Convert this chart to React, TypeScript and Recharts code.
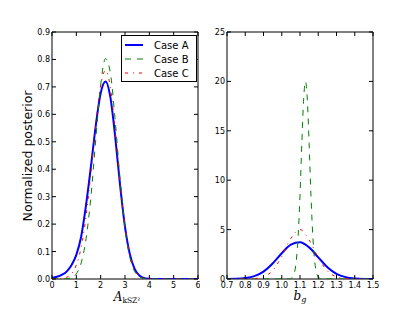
import React from 'react';
import { LineChart, Line, XAxis, YAxis, ReferenceArea } from 'recharts';

// left panel: A_kSZ^2 posterior
const leftX = [0, 0.2, 0.4, 0.6, 0.8, 1.0, 1.2, 1.4, 1.6, 1.8, 2.0, 2.2, 2.4, 2.6, 2.8, 3.0, 3.2, 3.4, 3.6, 3.8, 4.0, 4.2, 4.4, 4.6, 4.8, 5.0, 5.2, 5.4, 5.6, 5.8, 6.0];
const leftA = [0.004, 0.008, 0.015, 0.027, 0.05, 0.088, 0.155, 0.27, 0.41, 0.56, 0.677, 0.72, 0.662, 0.516, 0.34, 0.19, 0.09, 0.036, 0.012, 0.003, 0.001, 0, 0, 0, 0, 0, 0, 0, 0, 0, 0];
const leftB = [0, 0, 0, 0.001, 0.005, 0.019, 0.059, 0.147, 0.3, 0.51, 0.707, 0.803, 0.75, 0.574, 0.36, 0.187, 0.079, 0.027, 0.008, 0.002, 0, 0, 0, 0, 0, 0, 0, 0, 0, 0, 0];
const leftC = [0, 0.001, 0.002, 0.006, 0.019, 0.051, 0.116, 0.228, 0.387, 0.563, 0.705, 0.76, 0.697, 0.537, 0.348, 0.19, 0.087, 0.033, 0.011, 0.003, 0.001, 0, 0, 0, 0, 0, 0, 0, 0, 0, 0];
const leftXTicks = [0, 1, 2, 3, 4, 5, 6];
const leftYTicks = [0, 0.1, 0.2, 0.3, 0.4, 0.5, 0.6, 0.7, 0.8, 0.9];

// right panel: b_g posterior
const rightX = [0.7, 0.75, 0.8, 0.85, 0.9, 0.95, 1.0, 1.05, 1.1, 1.15, 1.2, 1.25, 1.3, 1.35, 1.4, 1.45, 1.5];
const rightA = [0.004, 0.02, 0.09, 0.29, 0.75, 1.57, 2.61, 3.49, 3.73, 3.2, 2.19, 1.2, 0.53, 0.19, 0.05, 0.01, 0.002];
const rightC = [0, 0, 0.001, 0.04, 0.22, 0.86, 2.29, 4.11, 5.0, 3.95, 2.15, 0.82, 0.22, 0.04, 0.005, 0, 0];
const rightBX = [0.7, 1.04, 1.05, 1.06, 1.07, 1.08, 1.09, 1.1, 1.11, 1.12, 1.13, 1.14, 1.15, 1.16, 1.17, 1.18, 1.19, 1.2, 1.21, 1.22, 1.5];
const rightB = [0, 0.01, 0.05, 0.2, 0.67, 1.9, 4.4, 8.5, 13.7, 18.2, 20.0, 18.2, 13.7, 8.5, 4.4, 1.9, 0.67, 0.2, 0.05, 0.01, 0];
const rightXTicks = [0.7, 0.8, 0.9, 1.0, 1.1, 1.2, 1.3, 1.4, 1.5];
const rightYTicks = [0, 5, 10, 15, 20, 25];

const seriesNames = ['Case A', 'Case B', 'Case C'];
const seriesColors = ['#0000ff', '#008000', '#ff0000'];
const seriesWidths = [2, 1, 1];
const seriesDash = [undefined, '6 6', '3 5 1 5'];

const zip = (xs: number[], ys: number[]) => xs.map((x, i) => ({ x, y: ys[i] }));

const TOP = 32;
const BOTTOM = 279;
const FONT = '"DejaVu Sans", sans-serif';

function xTick(fmt: (v: number) => string) {
  return (props: any) => {
    const { x, payload } = props;
    return (
      <g>
        <line x1={x} x2={x} y1={BOTTOM} y2={BOTTOM - 4} stroke="#000" />
        <line x1={x} x2={x} y1={TOP} y2={TOP + 4} stroke="#000" />
        <text x={x} y={BOTTOM + 9} textAnchor="middle" fontSize={8} fontFamily={FONT} fill="#000">
          {fmt(payload.value)}
        </text>
      </g>
    );
  };
}

function yTick(left: number, right: number, fmt: (v: number) => string) {
  return (props: any) => {
    const { y, payload } = props;
    return (
      <g>
        <line x1={left} x2={left + 4} y1={y} y2={y} stroke="#000" />
        <line x1={right} x2={right - 4} y1={y} y2={y} stroke="#000" />
        <text x={left - 2} y={y + 3} textAnchor="end" fontSize={8} fontFamily={FONT} fill="#000">
          {fmt(payload.value)}
        </text>
      </g>
    );
  };
}

const lines = (data: { x: number; y: number }[][]) =>
  data.map((d, i) => (
    <Line
      key={seriesNames[i]}
      data={d}
      dataKey="y"
      type="monotone"
      stroke={seriesColors[i]}
      strokeWidth={seriesWidths[i]}
      strokeDasharray={seriesDash[i]}
      dot={false}
      activeDot={false}
      isAnimationActive={false}
    />
  ));

export default function App() {
  const leftData = [zip(leftX, leftA), zip(leftX, leftB), zip(leftX, leftC)];
  const rightData = [zip(rightX, rightA), zip(rightBX, rightB), zip(rightX, rightC)];

  return (
    <div style={{ position: 'absolute', left: 0, top: 0, width: 415, height: 314, background: '#fff' }}>
      <div style={{ position: 'absolute', left: 0, top: 0 }}>
        <LineChart width={200} height={314} margin={{ top: TOP, right: 2, bottom: 15, left: 22 }}>
          <ReferenceArea x1={0} x2={6} y1={0} y2={0.9} fill="none" stroke="#000" strokeWidth={1} />
          <XAxis
            type="number"
            dataKey="x"
            domain={[0, 6]}
            ticks={leftXTicks}
            interval={0}
            allowDataOverflow
            axisLine={false}
            tickLine={false}
            height={20}
            tick={xTick((v) => String(v))}
            label={{
              content: () => (
                <text x={127} y={301} textAnchor="middle" fontFamily='"DejaVu Serif", serif' fill="#000">
                  <tspan fontStyle="italic" fontSize={12}>A</tspan>
                  <tspan fontSize={7.5} dy={2}>kSZ²</tspan>
                </text>
              ),
            }}
          />
          <YAxis
            type="number"
            domain={[0, 0.9]}
            ticks={leftYTicks}
            interval={0}
            allowDataOverflow
            axisLine={false}
            tickLine={false}
            width={30}
            tick={yTick(52, 198, (v) => v.toFixed(1))}
            label={{
              content: () => (
                <text
                  x={27}
                  y={156}
                  transform="rotate(-90 27 156)"
                  textAnchor="middle"
                  dominantBaseline="central"
                  fontSize={12.5}
                  fontFamily={FONT}
                  fill="#000"
                >
                  Normalized posterior
                </text>
              ),
            }}
          />
          {lines(leftData)}
        </LineChart>
      </div>

      <div style={{ position: 'absolute', left: 200, top: 0 }}>
        <LineChart width={200} height={314} margin={{ top: TOP, right: 27, bottom: 15, left: 0 }}>
          <ReferenceArea x1={0.7} x2={1.5} y1={0} y2={25} fill="none" stroke="#000" strokeWidth={1} />
          <XAxis
            type="number"
            dataKey="x"
            domain={[0.7, 1.5]}
            ticks={rightXTicks}
            interval={0}
            allowDataOverflow
            axisLine={false}
            tickLine={false}
            height={20}
            tick={xTick((v) => v.toFixed(1))}
            label={{
              content: () => (
                <text x={100} y={300} textAnchor="middle" fontFamily='"DejaVu Serif", serif' fill="#000">
                  <tspan fontStyle="italic" fontSize={12}>b</tspan>
                  <tspan fontStyle="italic" fontSize={8} dy={2}>g</tspan>
                </text>
              ),
            }}
          />
          <YAxis
            type="number"
            domain={[0, 25]}
            ticks={rightYTicks}
            interval={0}
            allowDataOverflow
            axisLine={false}
            tickLine={false}
            width={27}
            tick={yTick(27, 173, (v) => String(v))}
          />
          {lines(rightData)}
        </LineChart>
      </div>

      <svg width={415} height={314} style={{ position: 'absolute', left: 0, top: 0, pointerEvents: 'none' }}>
        <rect x={121.5} y={35.5} width={75} height={46} fill="#fff" stroke="#000" strokeWidth={1} />
        {seriesNames.map((name, i) => (
          <g key={name}>
            <line
              x1={125}
              x2={143}
              y1={45 + i * 14}
              y2={45 + i * 14}
              stroke={seriesColors[i]}
              strokeWidth={seriesWidths[i]}
              strokeDasharray={seriesDash[i]}
            />
            <text x={154} y={45 + i * 14 + 3.5} fontSize={10} fontFamily={FONT} fill="#000">
              {name}
            </text>
          </g>
        ))}
      </svg>
    </div>
  );
}
